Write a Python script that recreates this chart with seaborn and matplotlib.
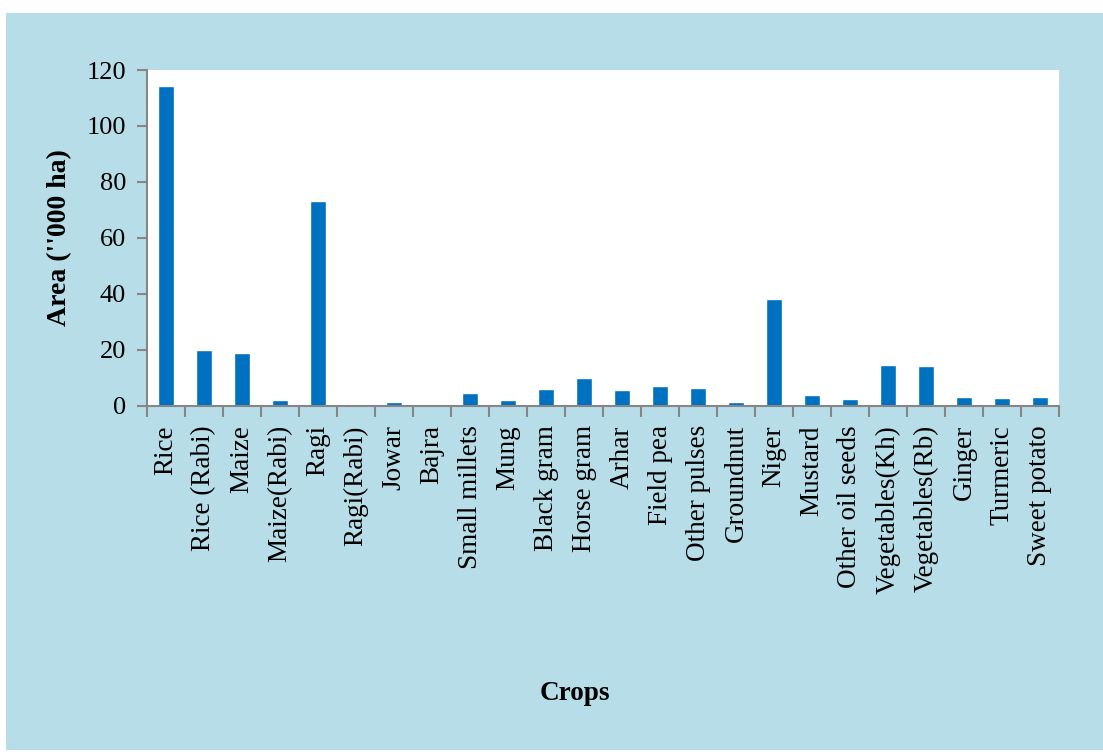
import matplotlib
matplotlib.use('Agg')
import matplotlib.pyplot as plt
import seaborn as sns
from matplotlib.patches import Rectangle
from matplotlib.ticker import FixedLocator

sns.set_style('white')
plt.rcParams['font.family'] = ['Liberation Serif', 'DejaVu Serif']
plt.rcParams['text.color'] = 'black'
plt.rcParams['axes.labelcolor'] = 'black'

# Area under crops ('000 ha)
crops = ['Rice', 'Rice (Rabi)', 'Maize', 'Maize(Rabi)', 'Ragi', 'Ragi(Rabi)', 'Jowar',
         'Bajra', 'Small millets', 'Mung', 'Black gram', 'Horse gram', 'Arhar',
         'Field pea', 'Other pulses', 'Groundnut', 'Niger', 'Mustard', 'Other oil seeds',
         'Vegetables(Kh)', 'Vegetables(Rb)', 'Ginger', 'Turmeric', 'Sweet potato']
area = [114.2, 20.0, 18.8, 1.9, 73.1, 0.0, 1.4, 0.0, 4.5, 2.1, 5.9, 10.0, 5.5,
        6.9, 6.3, 1.3, 38.1, 3.8, 2.4, 14.5, 14.1, 3.1, 2.75, 3.1]
yticks = [0, 20, 40, 60, 80, 100, 120]

fig = plt.figure(figsize=(11.03, 7.54), dpi=100)
fig.patch.set_facecolor('white')
fig.patches.append(Rectangle((6 / 1103, 4 / 754), 1 - 6 / 1103, 737 / 754,
                             transform=fig.transFigure, facecolor='#B7DDE8',
                             edgecolor='none', zorder=-5))

ax = fig.add_axes([0.1333, 0.4619, 0.8268, 0.4452])
ax.set_zorder(1)
ax.set_facecolor('white')
sns.barplot(x=crops, y=area, color='#0070C0', width=0.4, saturation=1, ax=ax)

ax.set_xlim(-0.5, len(crops) - 0.5)
ax.set_ylim(0, 120)
ax.set_yticks(yticks)
ax.tick_params(axis='y', left=True, labelsize=19, labelcolor='black', direction='out',
               length=7, color='#868686', width=1.5, pad=8)
ax.set_xticks(range(len(crops)))
ax.set_xticklabels(crops, rotation=90, fontsize=19.5)
ax.tick_params(axis='x', which='major', length=0, pad=14, labelcolor='black')
ax.xaxis.set_minor_locator(FixedLocator([i - 0.5 for i in range(len(crops) + 1)]))
ax.tick_params(axis='x', which='minor', bottom=True, direction='out', length=8,
               color='#868686', width=1.5)

for s in ['top', 'right']:
    ax.spines[s].set_visible(False)
for s in ['left', 'bottom']:
    ax.spines[s].set_color('#868686')
    ax.spines[s].set_linewidth(1.5)

ax.set_ylabel('Area (\'\'000 ha)', fontsize=20, fontweight='bold')
ax.yaxis.set_label_coords(-0.082, 0.5)
ax.set_xlabel('Crops', fontsize=19.5, fontweight='bold')
ax.xaxis.set_label_coords(0.469, -0.82)

fig.savefig('out.png', dpi=100)
